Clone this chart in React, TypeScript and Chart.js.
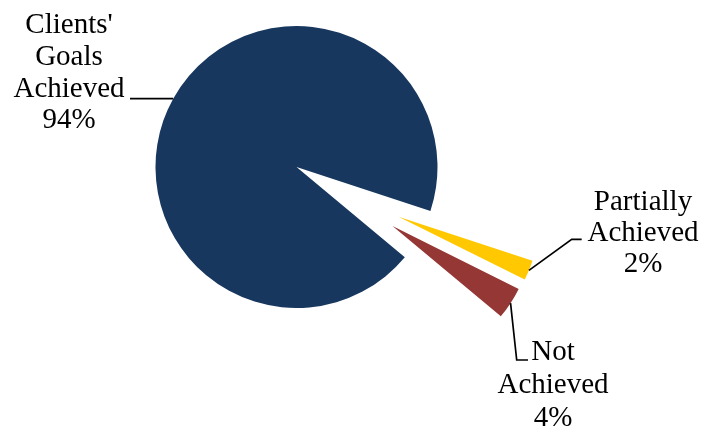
import React, { useEffect, useRef } from "react";
import { Chart, registerables } from "chart.js";

Chart.register(...registerables);

// ---- data ----
const categories = ["Clients' Goals Achieved", "Partially Achieved", "Not Achieved"];
const labelLines = [
  ["Clients'", "Goals", "Achieved"],
  ["Partially", "Achieved"],
  ["Not", "Achieved"],
];
const shares = [94.0, 2.3, 3.7];

// ---- styles ----
const sliceColors = ["#17375E", "#FFC800", "#953735"];
const explodeDistance = [0, 113.5, 112.7];
const explodeDirectionDeg = [0, 26, 31.6];
const FONT = '29px "Liberation Serif", "Times New Roman", serif';

// label layout: text centre x, first baseline y, line height, leader bend points after the arc point
const labelLayout = [
  { cx: 69, y0: 33.3, lh: 31.7, path: (p: { x: number; y: number }) => [p, { x: 130, y: p.y }] },
  { cx: 643, y0: 210, lh: 30.9, path: (p: { x: number; y: number }) => [p, { x: 571.7, y: 239.3 }, { x: 581.7, y: 239.3 }] },
  { cx: 553, y0: 360, lh: 33, path: (p: { x: number; y: number }) => [p, { x: 516.7, y: 360 }, { x: 528, y: 360 }] },
];

const explodePlugin = {
  id: "explodeSlices",
  afterDatasetsUpdate(chart: any) {
    const meta = chart.getDatasetMeta(0);
    meta.data.forEach((arc: any, i: number) => {
      const d = explodeDistance[i] || 0;
      if (!d) return;
      const a = (explodeDirectionDeg[i] * Math.PI) / 180;
      arc.x += Math.cos(a) * d;
      arc.y += Math.sin(a) * d;
    });
  },
};

const labelPlugin = {
  id: "sliceLabels",
  afterDraw(chart: any) {
    const ctx = chart.ctx as CanvasRenderingContext2D;
    const meta = chart.getDatasetMeta(0);
    const total = shares.reduce((s, v) => s + v, 0);
    ctx.save();
    meta.data.forEach((arc: any, i: number) => {
      const mid = (arc.startAngle + arc.endAngle) / 2;
      const p = { x: arc.x + Math.cos(mid) * arc.outerRadius, y: arc.y + Math.sin(mid) * arc.outerRadius };
      const lay = labelLayout[i];
      const pts = lay.path(p);
      ctx.beginPath();
      ctx.strokeStyle = "#000";
      ctx.lineWidth = 1.7;
      ctx.moveTo(pts[0].x, pts[0].y);
      for (let k = 1; k < pts.length; k++) ctx.lineTo(pts[k].x, pts[k].y);
      ctx.stroke();

      const lines = [...labelLines[i], Math.round((shares[i] / total) * 100) + "%"];
      ctx.fillStyle = "#000";
      ctx.font = FONT;
      ctx.textAlign = "center";
      ctx.textBaseline = "alphabetic";
      lines.forEach((t, k) => ctx.fillText(t, lay.cx, lay.y0 + k * lay.lh));
    });
    ctx.restore();
  },
};

export default function App() {
  const ref = useRef<HTMLCanvasElement | null>(null);
  useEffect(() => {
    if (!ref.current) return;
    const chart = new Chart(ref.current, {
      type: "pie",
      data: {
        labels: categories,
        datasets: [
          {
            data: shares,
            backgroundColor: sliceColors,
            borderWidth: 0,
          },
        ],
      },
      options: {
        animation: false,
        responsive: false,
        events: [],
        rotation: 129.8,
        radius: 141,
        layout: { padding: { left: 0, right: 112, top: 0, bottom: 98 } },
        plugins: {
          legend: { display: false },
          tooltip: { enabled: false },
          title: { display: false },
        },
      },
      plugins: [explodePlugin, labelPlugin],
    });
    return () => chart.destroy();
  }, []);
  return (
    <div style={{ position: "fixed", left: 0, top: 0, width: 705, height: 432, background: "#fff" }}>
      <canvas ref={ref} width={705} height={432} style={{ width: 705, height: 432, display: "block" }} />
    </div>
  );
}
